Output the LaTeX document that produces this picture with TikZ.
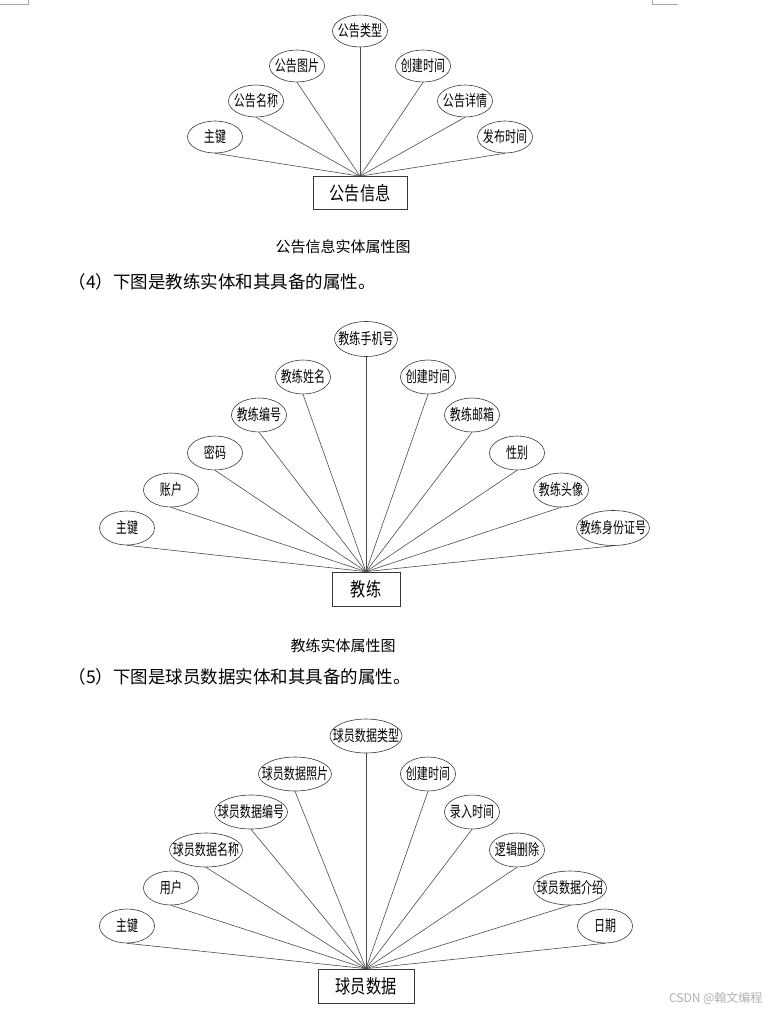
\documentclass[tikz,border=0pt]{standalone}
\usepackage{fontspec}
\setmainfont{Noto Sans CJK SC}
\usetikzlibrary{shapes.geometric}
\definecolor{EdgeGray}{RGB}{55,55,55}
\definecolor{LinkGray}{RGB}{75,75,75}
\definecolor{MarkGray}{RGB}{170,170,170}
\definecolor{WaterGray}{RGB}{175,175,175}
\newcommand{\attrtext}[1]{\makebox[0pt]{\scalebox{0.71}[1]{#1}}}
\newcommand{\enttext}[1]{\scalebox{0.8}[1]{#1}}

\begin{document}
\begin{tikzpicture}[x=1pt, y=-1pt,
    attr/.style={draw=EdgeGray, ellipse, line width=0.6pt, inner sep=0pt, minimum width=55pt, minimum height=34pt, font=\fontsize{15.5}{16}\selectfont},
    entity/.style={draw=EdgeGray, line width=0.7pt, inner sep=0pt, minimum height=34pt, font=\fontsize{19}{20}\selectfont},
    link/.style={draw=LinkGray, line width=0.6pt},
    caption/.style={font=\fontsize{15}{16}\selectfont},
    para/.style={anchor=west, font=\fontsize{17.5}{18}\selectfont}
  ]
    \useasboundingbox (0,0) rectangle (772,1012);

    \coordinate (tlA) at (0,4);
    \coordinate (tlB) at (28,4);
    \coordinate (tlC) at (28,0);
    \coordinate (trA) at (652,0);
    \coordinate (trB) at (652,4);
    \coordinate (trC) at (678,4);
    \draw[MarkGray, line width=0.6pt] (tlA) -- (tlB) -- (tlC);
    \draw[MarkGray, line width=0.6pt] (trA) -- (trB) -- (trC);

    \node[attr, minimum height=32pt] (ggType) at (360,31) {\attrtext{公告类型}};
    \node[attr, minimum height=32pt] (ggPic) at (297,66) {\attrtext{公告图片}};
    \node[attr, minimum height=32pt] (ggCreate) at (423,66) {\attrtext{创建时间}};
    \node[attr, minimum height=32pt] (ggName) at (256,101) {\attrtext{公告名称}};
    \node[attr, minimum height=32pt] (ggDetail) at (465,101) {\attrtext{公告详情}};
    \node[attr, minimum height=32pt] (ggKey) at (215,137) {\attrtext{主键}};
    \node[attr, minimum height=32pt] (ggPub) at (505,137) {\attrtext{发布时间}};
    \node[entity, minimum width=94pt, minimum height=33pt] (gg) at (360,193) {\enttext{公告信息}};

    \draw[link] (ggKey.south) -- (gg.north);
    \draw[link] (ggName.south) -- (gg.north);
    \draw[link] (ggPic.south) -- (gg.north);
    \draw[link] (ggType.south) -- (gg.north);
    \draw[link] (ggCreate.south) -- (gg.north);
    \draw[link] (ggDetail.south) -- (gg.north);
    \draw[link] (ggPub.south) -- (gg.north);

    \node[caption] (ggCap) at (343,247) {公告信息实体属性图};
    \node[para] (jlIntro) at (65,282) {（4）下图是教练实体和其具备的属性。};

    \node[attr, minimum width=63pt, minimum height=35pt] (jlPhone) at (366,339) {\attrtext{教练手机号}};
    \node[attr] (jlName) at (303,377) {\attrtext{教练姓名}};
    \node[attr] (jlCreate) at (428,377) {\attrtext{创建时间}};
    \node[attr] (jlNo) at (259,415) {\attrtext{教练编号}};
    \node[attr] (jlMail) at (472,415) {\attrtext{教练邮箱}};
    \node[attr] (jlPwd) at (215,453) {\attrtext{密码}};
    \node[attr] (jlSex) at (517,453) {\attrtext{性别}};
    \node[attr] (jlAcct) at (171,490) {\attrtext{账户}};
    \node[attr] (jlAvatar) at (561,490) {\attrtext{教练头像}};
    \node[attr] (jlKey) at (127,528) {\attrtext{主键}};
    \node[attr, minimum width=73pt, minimum height=35pt] (jlId) at (613,528) {\attrtext{教练身份证号}};
    \node[entity, minimum width=68pt] (jl) at (366,589) {\enttext{教练}};

    \draw[link] (jlKey.south) -- (jl.north);
    \draw[link] (jlAcct.south) -- (jl.north);
    \draw[link] (jlPwd.south) -- (jl.north);
    \draw[link] (jlNo.south) -- (jl.north);
    \draw[link] (jlName.south) -- (jl.north);
    \draw[link] (jlPhone.south) -- (jl.north);
    \draw[link] (jlCreate.south) -- (jl.north);
    \draw[link] (jlMail.south) -- (jl.north);
    \draw[link] (jlSex.south) -- (jl.north);
    \draw[link] (jlAvatar.south) -- (jl.north);
    \draw[link] (jlId.south) -- (jl.north);

    \node[caption] (jlCap) at (343,646) {教练实体属性图};
    \node[para] (qyIntro) at (65,677) {（5）下图是球员数据实体和其具备的属性。};

    \node[attr, minimum width=72pt] (qyType) at (366,736) {\attrtext{球员数据类型}};
    \node[attr, minimum width=73pt] (qyPhoto) at (295,774) {\attrtext{球员数据照片}};
    \node[attr] (qyCreate) at (428,774) {\attrtext{创建时间}};
    \node[attr, minimum width=73pt] (qyNo) at (251,812) {\attrtext{球员数据编号}};
    \node[attr] (qyEntry) at (472,812) {\attrtext{录入时间}};
    \node[attr, minimum width=73pt] (qyTitle) at (206,850) {\attrtext{球员数据名称}};
    \node[attr] (qyDel) at (517,850) {\attrtext{逻辑删除}};
    \node[attr] (qyUser) at (171,888) {\attrtext{用户}};
    \node[attr, minimum width=73pt] (qyIntroAttr) at (570,888) {\attrtext{球员数据介绍}};
    \node[attr] (qyKey) at (127,926) {\attrtext{主键}};
    \node[attr] (qyDate) at (605,926) {\attrtext{日期}};
    \node[entity, minimum width=96pt] (qy) at (366,986) {\enttext{球员数据}};

    \draw[link] (qyKey.south) -- (qy.north);
    \draw[link] (qyUser.south) -- (qy.north);
    \draw[link] (qyTitle.south) -- (qy.north);
    \draw[link] (qyNo.south) -- (qy.north);
    \draw[link] (qyPhoto.south) -- (qy.north);
    \draw[link] (qyType.south) -- (qy.north);
    \draw[link] (qyCreate.south) -- (qy.north);
    \draw[link] (qyEntry.south) -- (qy.north);
    \draw[link] (qyDel.south) -- (qy.north);
    \draw[link] (qyIntroAttr.south) -- (qy.north);
    \draw[link] (qyDate.south) -- (qy.north);

    \node[anchor=east, text=WaterGray, font=\fontsize{12}{13}\selectfont] (mark) at (766,998) {CSDN @翰文编程};
  \end{tikzpicture}
\end{document}
